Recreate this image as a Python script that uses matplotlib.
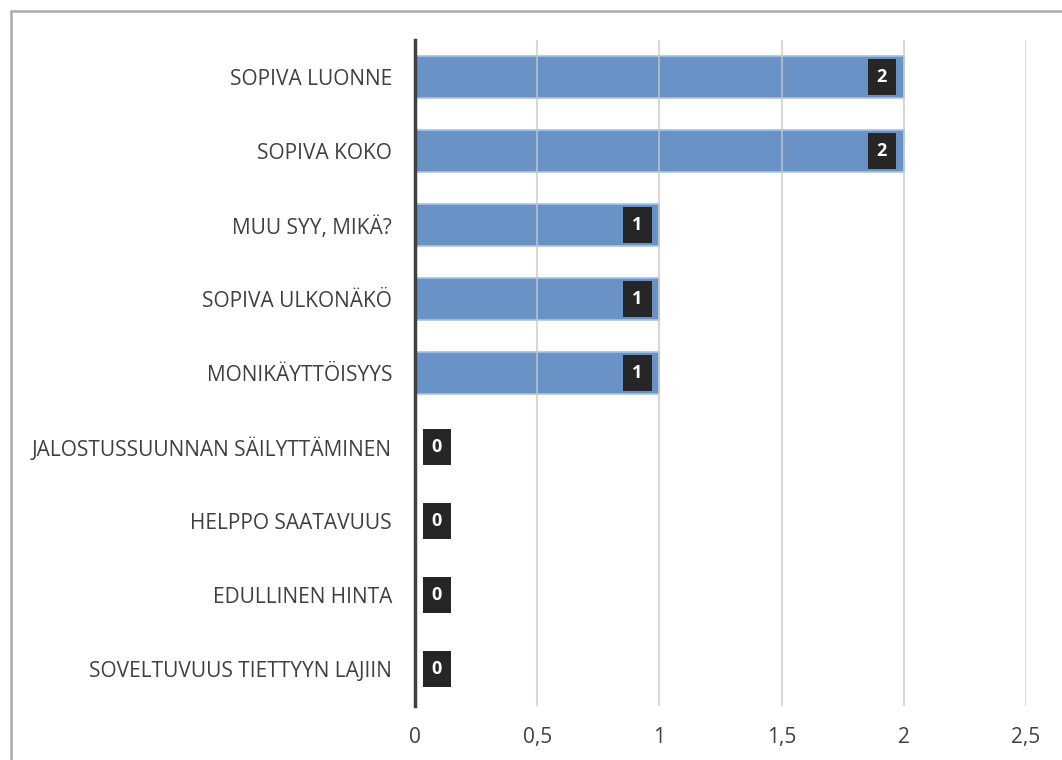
import matplotlib
matplotlib.use('Agg')
import matplotlib.pyplot as plt
from matplotlib.patches import Rectangle

# data, top to bottom as in the chart
categories = ["SOPIVA LUONNE", "SOPIVA KOKO", "MUU SYY, MIKÄ?", "SOPIVA ULKONÄKÖ",
              "MONIKÄYTTÖISYYS", "JALOSTUSSUUNNAN SÄILYTTÄMINEN", "HELPPO SAATAVUUS",
              "EDULLINEN HINTA", "SOVELTUVUUS TIETTYYN LAJIIN"]
values = [2, 2, 1, 1, 1, 0, 0, 0, 0]
xticks = [0, 0.5, 1, 1.5, 2, 2.5]
xticklabels = ["0", "0,5", "1", "1,5", "2", "2,5"]

plt.rcParams['font.family'] = ['Open Sans', 'DejaVu Sans']
textcol = '#404040'

fig = plt.figure(figsize=(10.62, 7.6), dpi=100)
ax = fig.add_axes([415/1062, 1 - 706/760, (1026 - 415)/1062, (706 - 40)/760])

ypos = list(range(len(categories)))
ax.barh(ypos, values, height=0.58, color='#6993c6', edgecolor='#a9c2e2', linewidth=1.2, zorder=2)
ax.set_ylim(len(categories) - 0.5, -0.5)
ax.set_xlim(0, 2.5)

ax.set_xticks(xticks)
ax.set_xticklabels(xticklabels)
ax.set_yticks(ypos)
ax.set_yticklabels(categories)
ax.tick_params(axis='both', length=0, labelsize=15, colors=textcol)
ax.tick_params(axis='x', pad=15)
ax.tick_params(axis='y', pad=16.5)

ax.grid(axis='x', color='#c8c8c8', linewidth=1.5, alpha=0.7, zorder=3)
ax.set_axisbelow(False)
for s in ['top', 'right', 'bottom']:
    ax.spines[s].set_visible(False)
ax.spines['left'].set_color('#404040')
ax.spines['left'].set_linewidth(2.5)
ax.spines['left'].set_zorder(5)

# data labels in dark boxes
for i, v in enumerate(values):
    off = -22 if v > 0 else 22
    ax.annotate(str(v), xy=(v, i), xytext=(off, 0), textcoords='offset pixels',
                ha='center', va='center', color='white', fontweight='bold', fontsize=13,
                bbox=dict(boxstyle='square,pad=0.5', facecolor='#262626', edgecolor='none'),
                zorder=6)

# chart frame (only top and left edges visible)
fig.patches.append(Rectangle((11/1062, -0.1), 1.2, 1 - 11/760 + 0.1, transform=fig.transFigure,
                             fill=False, edgecolor='#aaaaaa', linewidth=1.8))

fig.savefig('out.png', dpi=100)
